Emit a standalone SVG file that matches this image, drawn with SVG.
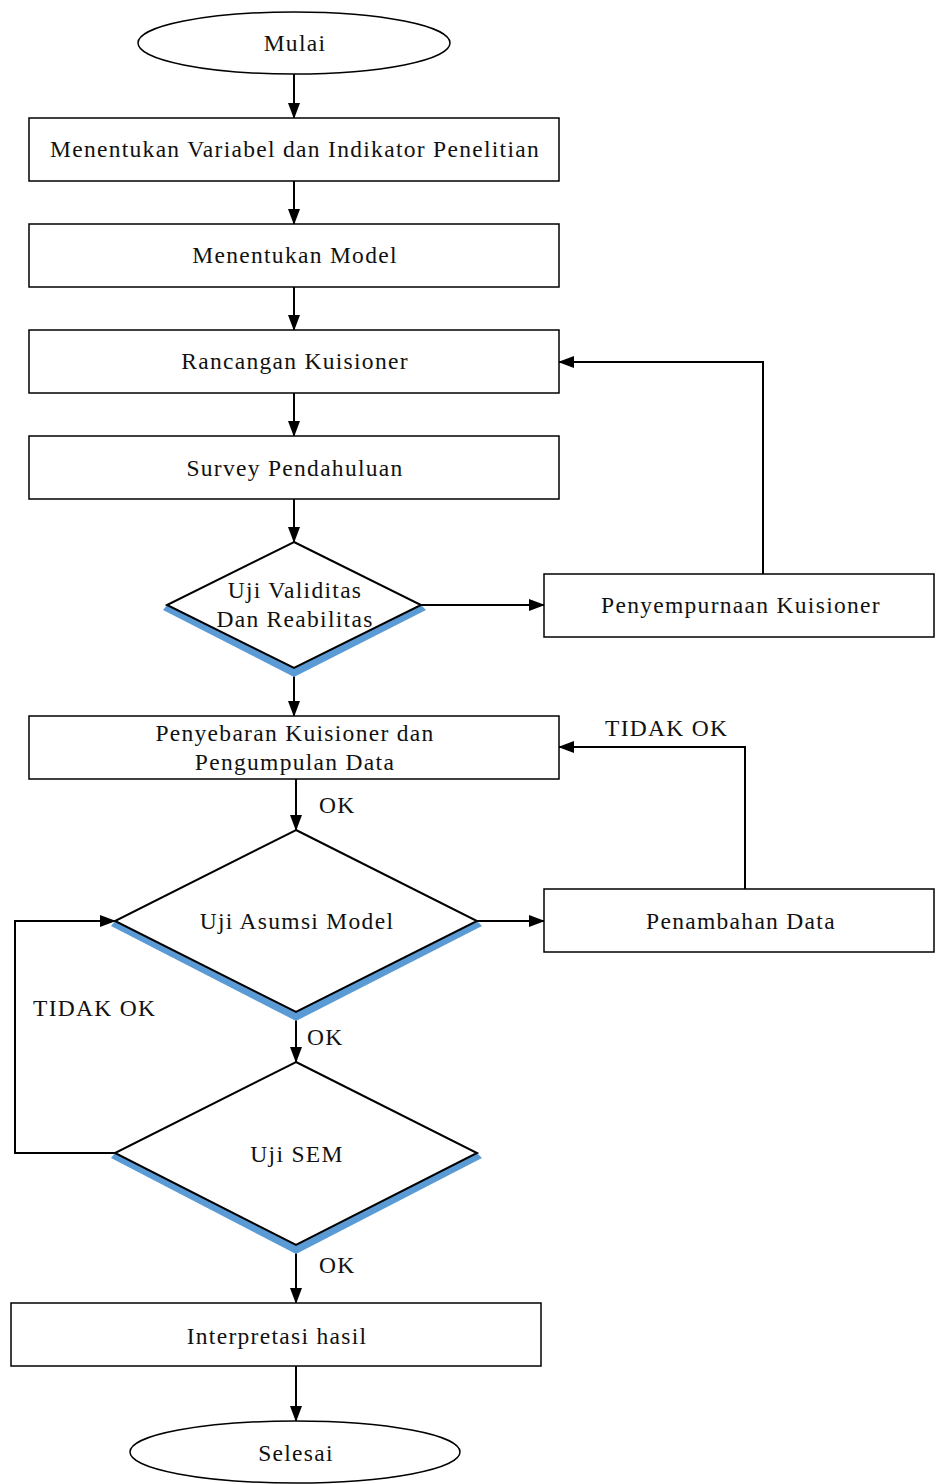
<svg xmlns="http://www.w3.org/2000/svg" width="937" height="1484" viewBox="0 0 937 1484">
<defs>
<marker id="ah" markerWidth="16" markerHeight="12" refX="15" refY="6" orient="auto" markerUnits="userSpaceOnUse">
<path d="M0,0 L16,6 L0,12 Z" fill="#000"/>
</marker>
<style>
.box{fill:#fff;stroke:#000;stroke-width:1.5}
.dia{fill:#fff;stroke:#000;stroke-width:2}
.sh{fill:#5b9bd5}
.t{font-family:"Liberation Serif","Times New Roman",serif;font-size:23.5px;letter-spacing:1.3px;fill:#111;text-anchor:middle}
.l{font-family:"Liberation Serif","Times New Roman",serif;font-size:23.5px;letter-spacing:1.3px;fill:#111}
.c{fill:none;stroke:#000;stroke-width:2}
</style>
</defs>
<rect width="937" height="1484" fill="#fff"/>
<g id="connectors">
<path class="c" d="M294,74 V118" marker-end="url(#ah)"/>
<path class="c" d="M294,181 V224" marker-end="url(#ah)"/>
<path class="c" d="M294,287 V330" marker-end="url(#ah)"/>
<path class="c" d="M294,393 V436" marker-end="url(#ah)"/>
<path class="c" d="M294,499 V542" marker-end="url(#ah)"/>
<path class="c" d="M421,605 H544" marker-end="url(#ah)"/>
<path class="c" d="M763,574 V362 H559" marker-end="url(#ah)"/>
<path class="c" d="M294,668 V716" marker-end="url(#ah)"/>
<path class="c" d="M296,779 V830" marker-end="url(#ah)"/>
<path class="c" d="M477,921 H544" marker-end="url(#ah)"/>
<path class="c" d="M745,889 V747 H559" marker-end="url(#ah)"/>
<path class="c" d="M296,1012 V1062" marker-end="url(#ah)"/>
<path class="c" d="M115,1153 H15 V921 H115" marker-end="url(#ah)"/>
<path class="c" d="M296,1245 V1303" marker-end="url(#ah)"/>
<path class="c" d="M296,1366 V1421" marker-end="url(#ah)"/>
<text class="l" x="319" y="813">OK</text>
<text class="l" x="605" y="736">TIDAK OK</text>
<text class="l" x="307" y="1045">OK</text>
<text class="l" x="33" y="1016">TIDAK OK</text>
<text class="l" x="319" y="1273">OK</text>
</g>
<g id="mulai">
<ellipse class="box" cx="294" cy="43" rx="156" ry="31"/>
<text class="t" x="295" y="51">Mulai</text>
</g>
<g id="variabel">
<rect class="box" x="29" y="118" width="530" height="63"/>
<text class="t" x="295" y="157">Menentukan Variabel dan Indikator Penelitian</text>
</g>
<g id="model">
<rect class="box" x="29" y="224" width="530" height="63"/>
<text class="t" x="295" y="263">Menentukan Model</text>
</g>
<g id="rancangan">
<rect class="box" x="29" y="330" width="530" height="63"/>
<text class="t" x="295" y="369">Rancangan Kuisioner</text>
</g>
<g id="survey">
<rect class="box" x="29" y="436" width="530" height="63"/>
<text class="t" x="295" y="476">Survey Pendahuluan</text>
</g>
<g id="uji-validitas">
<path class="sh" d="M167,605 L294,668 L421,605 L426,610 L294,677 L163,610 Z"/>
<path class="dia" d="M294,542 L421,605 L294,668 L167,605 Z"/>
<text class="t" x="295" y="598">Uji Validitas</text>
<text class="t" x="295" y="627">Dan Reabilitas</text>
</g>
<g id="penyempurnaan">
<rect class="box" x="544" y="574" width="390" height="63"/>
<text class="t" x="741" y="613">Penyempurnaan Kuisioner</text>
</g>
<g id="penyebaran">
<rect class="box" x="29" y="716" width="530" height="63"/>
<text class="t" x="295" y="741">Penyebaran Kuisioner dan</text>
<text class="t" x="295" y="770">Pengumpulan Data</text>
</g>
<g id="uji-asumsi">
<path class="sh" d="M115,921 L296,1012 L477,921 L482,926 L296,1021 L111,926 Z"/>
<path class="dia" d="M296,830 L477,921 L296,1012 L115,921 Z"/>
<text class="t" x="297" y="929">Uji Asumsi Model</text>
</g>
<g id="penambahan">
<rect class="box" x="544" y="889" width="390" height="63"/>
<text class="t" x="741" y="929">Penambahan Data</text>
</g>
<g id="uji-sem">
<path class="sh" d="M115,1153 L296,1245 L477,1153 L482,1158 L296,1254 L111,1158 Z"/>
<path class="dia" d="M296,1062 L477,1153 L296,1245 L115,1153 Z"/>
<text class="t" x="297" y="1162">Uji SEM</text>
</g>
<g id="interpretasi">
<rect class="box" x="11" y="1303" width="530" height="63"/>
<text class="t" x="277" y="1344">Interpretasi hasil</text>
</g>
<g id="selesai">
<ellipse class="box" cx="295" cy="1452" rx="165" ry="31"/>
<text class="t" x="296" y="1461">Selesai</text>
</g>
</svg>
